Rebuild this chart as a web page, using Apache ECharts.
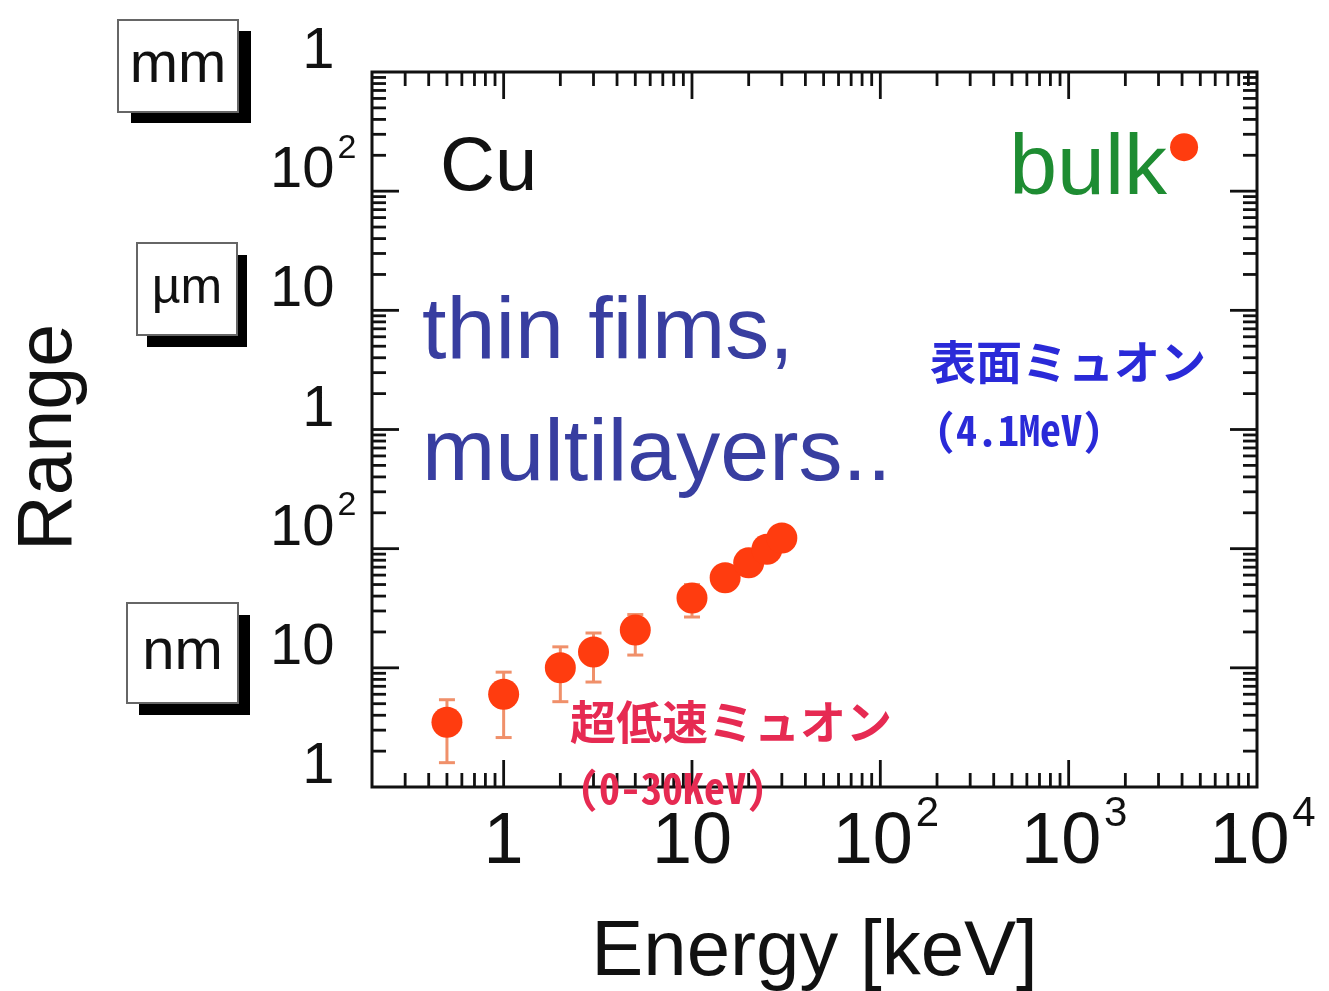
<!DOCTYPE html>
<html>
<head>
<meta charset="utf-8">
<script src="https://cdn.jsdelivr.net/npm/echarts@6/dist/echarts.min.js"></script>
<style>
  html, body { margin: 0; padding: 0; background: #ffffff; }
  #chart { width: 1329px; height: 991px; }
</style>
</head>
<body>
<div id="chart"></div>
<script>
// Implantation range of muons in copper as a function of energy.
// Slow muons (0-30 keV) with error bars, and the surface-muon point (4.1 MeV).
const energyKeV   = [0.5, 1, 2, 3, 5, 10, 15, 20, 25, 30];
const rangeNm     = [3.5, 6.0, 10, 13.6, 20.8, 38.5, 57, 76, 99, 123];
const rangeLowNm  = [1.6, 2.6, 5.2, 7.6, 12.8, 26.7, null, null, null, null];
const rangeHighNm = [5.4, 9.2, 15, 19.6, 28, 50, null, null, null, null];

const bulkEnergyKeV = [4100];
const bulkRangeNm   = [234000];

// Decade tick labels (y in nm: 1 nm ... 1 mm)
const xTickValues = [1, 10, 100, 1000, 10000];
const xTickLabels = ['1', '10', '10^2', '10^3', '10^4'];
const yTickValues = [1, 10, 100, 1000, 10000, 100000, 1000000];
const yTickLabels = ['1', '10', '10^2', '1', '10', '10^2', '1'];

const X_MIN = 0.2, X_MAX = 10000, Y_MIN = 1, Y_MAX = 1000000;

const SANS = "'Liberation Sans', Arial, Helvetica, sans-serif";
const JP = "'Noto Sans Mono CJK JP', 'Noto Sans CJK JP', monospace";

function findLabel(values, labels, v) {
  const i = values.findIndex(t => Math.abs(Math.log10(t) - Math.log10(v)) < 1e-6);
  return i < 0 ? null : labels[i];
}
function xLabel(v) {
  const lab = findLabel(xTickValues, xTickLabels, v);
  if (lab == null) return '';
  const p = lab.split('^');
  return p.length > 1 ? '{b|' + p[0] + '}{s|' + p[1] + '}' : '{b|' + p[0] + '}';
}
// y labels start at a common left edge; single digits sit one digit further right
function yLabel(v) {
  const lab = findLabel(yTickValues, yTickLabels, v);
  if (lab == null) return '';
  const p = lab.split('^');
  if (p.length > 1) return '{b|' + p[0] + '}{s|' + p[1] + '}';
  return p[0].length === 1 ? '{sp|0}{b|' + p[0] + '}' : '{b|' + p[0] + '}';
}

// minor/major tick positions for a log axis (2..9 x 10^k), inside the range
function logTicks(min, max) {
  const out = [];
  for (let k = Math.floor(Math.log10(min)); k <= Math.ceil(Math.log10(max)); k++) {
    for (let m = 1; m <= 9; m++) {
      const v = m * Math.pow(10, k);
      if (v > min * 1.0001 && v < max / 1.0001) out.push([v, m === 1 ? 1 : 0]);
    }
  }
  return out;
}
const xTicks = logTicks(X_MIN, X_MAX).map(t => [t[0], Y_MIN, t[1]]);
const yTicks = logTicks(Y_MIN, Y_MAX).map(t => [X_MIN, t[0], t[1]]);

const TICK_STYLE = { stroke: '#111', lineWidth: 2.8 };
const MAJOR_LEN = 27, MINOR_LEN = 14;

function xTickItem(params, api) {
  const cs = params.coordSys;
  const px = api.coord([api.value(0), Y_MIN])[0];
  const len = api.value(2) ? MAJOR_LEN : MINOR_LEN;
  const b = cs.y + cs.height, t = cs.y;
  return { type: 'group', children: [
    { type: 'line', shape: { x1: px, y1: b, x2: px, y2: b - len }, style: TICK_STYLE },
    { type: 'line', shape: { x1: px, y1: t, x2: px, y2: t + len }, style: TICK_STYLE }
  ]};
}
function yTickItem(params, api) {
  const cs = params.coordSys;
  const py = api.coord([X_MIN, api.value(1)])[1];
  const len = api.value(2) ? MAJOR_LEN : MINOR_LEN;
  const l = cs.x, r = cs.x + cs.width;
  return { type: 'group', children: [
    { type: 'line', shape: { x1: l, y1: py, x2: l + len, y2: py }, style: TICK_STYLE },
    { type: 'line', shape: { x1: r, y1: py, x2: r - len, y2: py }, style: TICK_STYLE }
  ]};
}

const errData = [];
energyKeV.forEach((e, i) => {
  if (rangeLowNm[i] != null) errData.push([e, rangeLowNm[i], rangeHighNm[i]]);
});
function errItem(params, api) {
  const lo = api.coord([api.value(0), api.value(1)]);
  const hi = api.coord([api.value(0), api.value(2)]);
  const w = 8;
  const st = { stroke: '#f0906a', lineWidth: 3 };
  return { type: 'group', children: [
    { type: 'line', shape: { x1: lo[0], y1: lo[1], x2: hi[0], y2: hi[1] }, style: st },
    { type: 'line', shape: { x1: lo[0] - w, y1: lo[1], x2: lo[0] + w, y2: lo[1] }, style: st },
    { type: 'line', shape: { x1: hi[0] - w, y1: hi[1], x2: hi[0] + w, y2: hi[1] }, style: st }
  ]};
}

function unitBox(x, y, w, h, dx, dy, text, fontSize) {
  return {
    type: 'group', x: x, y: y, z: 10,
    children: [
      { type: 'rect', shape: { x: dx, y: dy, width: w, height: h }, style: { fill: '#000' } },
      { type: 'rect', shape: { x: 0, y: 0, width: w, height: h }, style: { fill: '#fff', stroke: '#666', lineWidth: 2 } },
      { type: 'text', x: w / 2, y: h / 2, style: { text: text, fontSize: fontSize, fontFamily: SANS, fill: '#111', align: 'center', verticalAlign: 'middle' } }
    ]
  };
}

function label(x, y, text, size, color, extra) {
  return {
    type: 'text', x: x, y: y, z: 20,
    style: Object.assign({ text: text, fontSize: size, fontFamily: SANS, fill: color, align: 'left', verticalAlign: 'middle' }, extra || {})
  };
}

const chart = echarts.init(document.getElementById('chart'), null, { renderer: 'canvas' });

chart.setOption({
  animation: false,
  backgroundColor: '#ffffff',
  grid: {
    left: 372, right: 72, top: 72, bottom: 204,
    show: true, borderColor: '#111', borderWidth: 3,
    outerBoundsMode: 'none'
  },
  xAxis: {
    type: 'log', logBase: 10, min: X_MIN, max: X_MAX, splitNumber: 5,
    name: 'Energy [keV]', nameLocation: 'middle', nameGap: 127, nameMoveOverlap: false,
    nameTextStyle: { fontSize: 78, fontFamily: SANS, color: '#111' },
    axisLine: { show: false }, axisTick: { show: false }, splitLine: { show: false },
    axisLabel: {
      margin: 6, showMinLabel: true, showMaxLabel: true, hideOverlap: false,
      formatter: xLabel,
      rich: {
        b: { fontSize: 72, lineHeight: 100, fontFamily: SANS, color: '#111' },
        s: { fontSize: 42, lineHeight: 42, fontFamily: SANS, color: '#111', verticalAlign: 'top', width: 1, padding: [0, 0, 0, 14] }
      }
    }
  },
  yAxis: {
    type: 'log', logBase: 10, min: Y_MIN, max: Y_MAX, splitNumber: 6,
    name: 'Range', nameLocation: 'middle', nameGap: 284, nameMoveOverlap: false,
    nameTextStyle: { fontSize: 77, fontFamily: SANS, color: '#111', padding: [0, 16, 0, 0] },
    axisLine: { show: false }, axisTick: { show: false }, splitLine: { show: false },
    axisLabel: {
      margin: 102, showMinLabel: true, showMaxLabel: true, hideOverlap: false,
      align: 'left', padding: [0, 0, 40, 0],
      formatter: yLabel,
      rich: {
        b: { fontSize: 58, lineHeight: 80, fontFamily: SANS, color: '#111' },
        sp: { fontSize: 58, lineHeight: 80, fontFamily: SANS, color: 'rgba(0,0,0,0)' },
        s: { fontSize: 34, lineHeight: 34, fontFamily: SANS, color: '#111', verticalAlign: 'top', padding: [0, 0, 0, 3] }
      }
    }
  },
  series: [
    { type: 'custom', name: 'xticks', data: xTicks, renderItem: xTickItem, encode: { x: 0, y: 1 }, silent: true, clip: false, z: 5 },
    { type: 'custom', name: 'yticks', data: yTicks, renderItem: yTickItem, encode: { x: 0, y: 1 }, silent: true, clip: false, z: 5 },
    { type: 'custom', name: 'errors', data: errData, renderItem: errItem, encode: { x: 0, y: [1, 2] }, silent: true, clip: false, z: 6 },
    {
      type: 'scatter', name: '超低速ミュオン',
      data: energyKeV.map((e, i) => [e, rangeNm[i]]),
      symbol: 'circle', symbolSize: 31, itemStyle: { color: '#ff3c0f', opacity: 1 }, z: 8
    },
    {
      type: 'scatter', name: '表面ミュオン',
      data: bulkEnergyKeV.map((e, i) => [e, bulkRangeNm[i]]),
      symbol: 'circle', symbolSize: 28, itemStyle: { color: '#ff3c0f', opacity: 1 }, z: 8
    }
  ],
  graphic: [
    unitBox(118, 20, 120, 92, 13, 11, 'mm', 58),
    unitBox(137, 243, 100, 92, 10, 12, 'µm', 50),
    unitBox(127, 603, 111, 100, 12, 12, 'nm', 58),
    label(440, 169, 'Cu', 76, '#111'),
    label(1167, 170, 'bulk', 86, '#1e8c32', { align: 'right' }),
    label(422, 334, 'thin films,', 88, '#383ea0'),
    label(422, 456, 'multilayers..', 88, '#383ea0'),
    label(930, 362, '表面ミュオン', 46, '#2a2ad8', { fontFamily: JP, fontWeight: 'bold' }),
    label(935, 430, '(4.1MeV)', 42, '#2a2ad8', { fontFamily: JP, fontWeight: 'bold' }),
    label(570, 722, '超低速ミュオン', 46, '#e62a52', { fontFamily: JP, fontWeight: 'bold' }),
    label(578, 788, '(0-30KeV)', 42, '#e62a52', { fontFamily: JP, fontWeight: 'bold' })
  ]
});
</script>
</body>
</html>
